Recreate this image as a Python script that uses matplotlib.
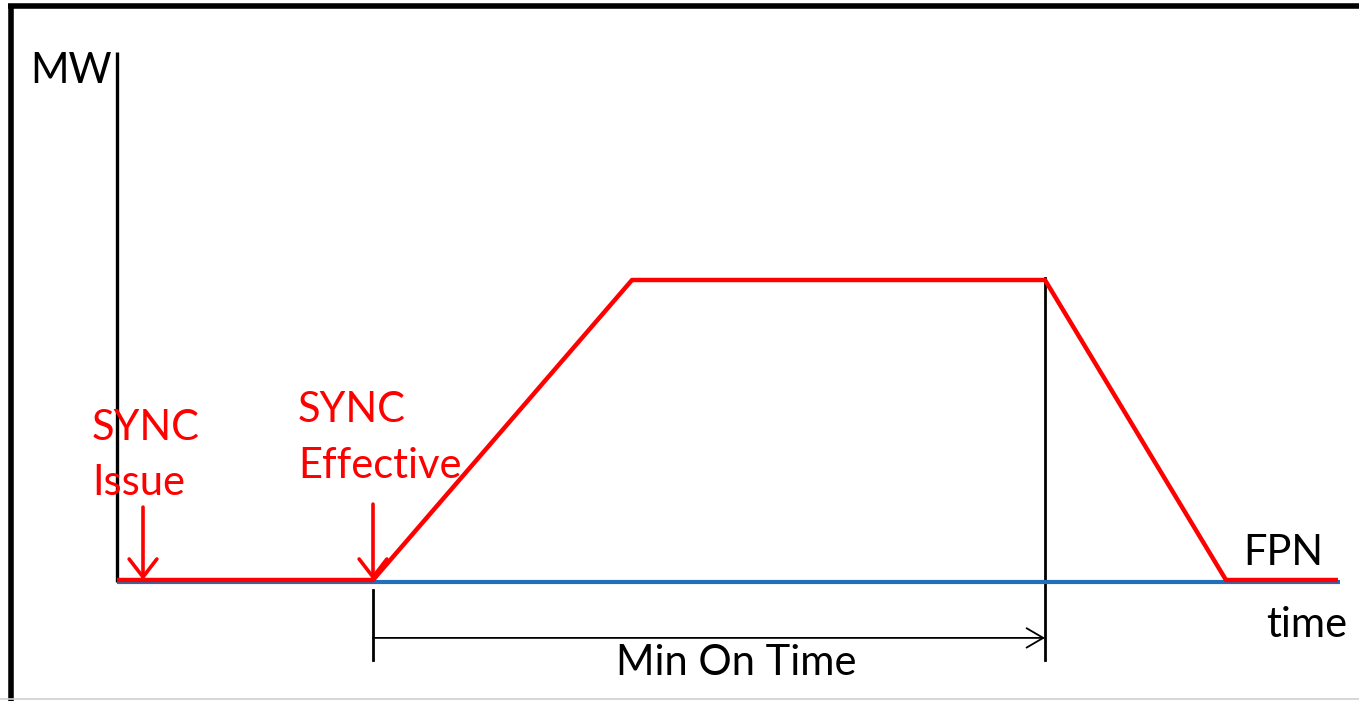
import matplotlib
matplotlib.use("Agg")
import matplotlib.pyplot as plt

# time in arbitrary units, power in MW (relative)
fpn_time = [0, 122.3]
fpn_mw = [0, 0]

output_time = [0, 25.6, 51.5, 92.8, 110.9, 122.1]
output_mw = [0, 0, 100, 100, 0, 0]

sync_issue_t = 2.6
sync_effective_t = 25.6
min_on_end_t = 92.8

RED = "#ff0000"
BLUE = "#1f70b8"
FONT = ["Lato", "DejaVu Sans"]

fig = plt.figure(figsize=(13.59, 7.01), dpi=100)
ax = fig.add_axes([0, 0, 1, 1])
ax.set_xlim(-11.7, 124.2)
ax.set_ylim(-40.33, 193.33)
ax.axis("off")

# outer frame (left + top black, bottom light grey)
ax.plot([-10.65, -10.65], [-40.33, 191.4], color="black", lw=4.0,
        solid_capstyle="butt")
ax.plot([-10.9, 124.2], [191.4, 191.4], color="black", lw=4.0,
        solid_capstyle="butt")
ax.plot([-11.7, 124.2], [-39.6, -39.6], color="#d0d0d0", lw=1.2)

# MW axis
ax.plot([0, 0], [-0.8, 176], color="black", lw=2.4, solid_capstyle="butt")

# FPN baseline and actual output
ax.plot(fpn_time, [v - 0.8 for v in fpn_mw], color=BLUE, lw=3.0,
        solid_capstyle="butt", zorder=2)
ax.plot(output_time, output_mw, color=RED, lw=3.2, solid_capstyle="butt",
        zorder=3)

# SYNC arrows
for t, top in [(sync_issue_t, 24.3), (sync_effective_t, 25.3)]:
    ax.annotate("", xy=(t, 0), xytext=(t, top),
                arrowprops=dict(arrowstyle="->,head_length=0.65,head_width=0.5",
                                color=RED, lw=2.6, mutation_scale=20,
                                shrinkA=0, shrinkB=0), zorder=4)

# Min On Time markers
ax.plot([min_on_end_t, min_on_end_t], [-26.7, 100.5], color="black", lw=2.0,
        zorder=1)
ax.plot([sync_effective_t, sync_effective_t], [-3.3, -26.7], color="black",
        lw=2.0)
ax.annotate("", xy=(min_on_end_t, -19.3), xytext=(sync_effective_t, -19.3),
            arrowprops=dict(arrowstyle="->,head_length=0.6,head_width=0.35",
                            color="black", lw=1.3, mutation_scale=20,
                            shrinkA=0, shrinkB=0))

# labels
fs = 30
ax.text(-8.7, 165.7, "MW", fontsize=fs, family=FONT, va="baseline")
ax.text(-2.5, 46.7, "SYNC", fontsize=fs, family=FONT, color=RED, va="baseline")
ax.text(-2.5, 28.3, "Issue", fontsize=fs, family=FONT, color=RED, va="baseline")
ax.text(18.1, 52.7, "SYNC", fontsize=fs, family=FONT, color=RED, va="baseline")
ax.text(18.1, 34.0, "Effective", fontsize=fs, family=FONT, color=RED,
        va="baseline")
ax.text(112.6, 5.0, "FPN", fontsize=fs, family=FONT, va="baseline")
ax.text(114.9, -19.0, "time", fontsize=fs, family=FONT, va="baseline")
ax.text(61.9, -31.7, "Min On Time", fontsize=fs, family=FONT, va="baseline",
        ha="center")

fig.savefig("out.png", dpi=100)
